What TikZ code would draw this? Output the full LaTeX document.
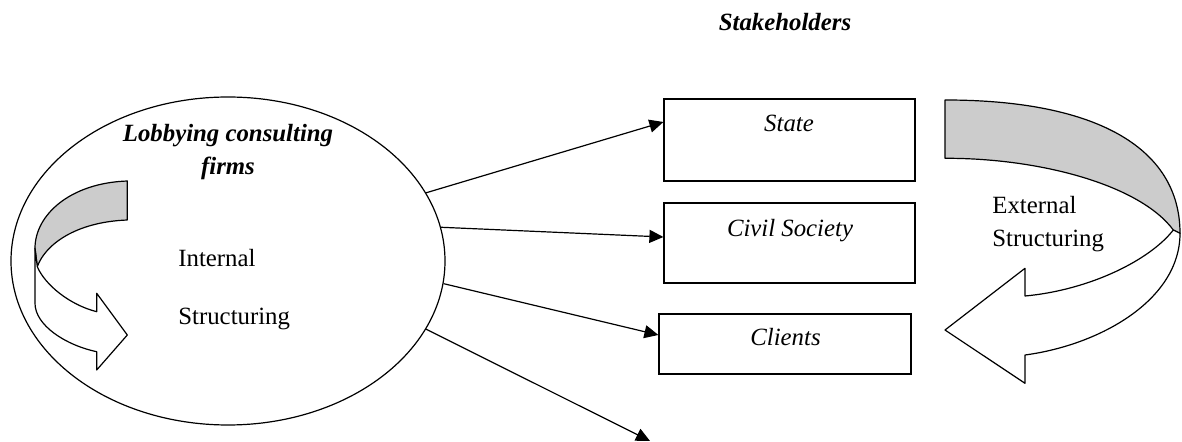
\documentclass[tikz,border=0pt]{standalone}
\usepackage{fontspec}
\setmainfont{Liberation Serif}
\usetikzlibrary{arrows.meta,shapes.geometric}
\tikzset{
  txt/.style={font=\fontsize{12.4}{16.5}\selectfont, inner sep=0pt, anchor=base},
  bi/.style={txt, font=\fontsize{12.4}{16.5}\selectfont\bfseries\itshape},
  it/.style={txt, font=\fontsize{12.4}{16.5}\selectfont\itshape},
  box/.style={draw, line width=0.6pt, inner sep=0pt},
  conn/.style={line width=0.6pt, -{Triangle[length=7pt,width=6.5pt]}},
  curvearrow/.style={line width=0.6pt, line join=round},
}
\begin{document}
\begin{tikzpicture}[x=0.5pt,y=-0.5pt]
\useasboundingbox (0,0) rectangle (1182,442);
% firm ellipse
\node[draw, ellipse, line width=0.6pt, minimum width=217pt, minimum height=164pt, inner sep=0pt] (ell) at (228,261) {};
% stakeholder boxes
\node[box, minimum width=125.5pt, minimum height=41pt] (state) at (789.5,140) {};
\node[box, minimum width=125.5pt, minimum height=40pt] (civil) at (789.5,243) {};
\node[box, minimum width=126pt, minimum height=30pt] (clients) at (785,344) {};
% texts
\node[bi] (stake) at (785,31) {Stakeholders};
\node[bi, align=center] (lob) at (228,175) {Lobbying consulting\\firms};
\node[txt, anchor=base west] (int1) at (178,267) {Internal};
\node[txt, anchor=base west] (int2) at (178,325) {Structuring};
\node[it] (statet) at (789,132) {State};
\node[it] (civilt) at (790,237) {Civil Society};
\node[it] (clientst) at (785.5,346) {Clients};
\node[txt, anchor=base west] (ext1) at (992,214) {External};
\node[txt, anchor=base west] (ext2) at (992,247) {Structuring};
% connector end points
\coordinate (e1) at (state.west |- 0,122);
\coordinate (e2) at (civil.west |- 0,237);
\coordinate (e3) at (clients.west |- 0,335);
\coordinate (e4) at (650,441);
\draw[conn] (ell.19) -- (e1);
\draw[conn] (ell.9.7) -- (e2);
\draw[conn] (ell.-6.9) -- (e3);
\draw[conn] (ell.-19.6) -- (e4);
% internal curved arrow
\filldraw[curvearrow, fill=gray!40] (127.3,181) .. controls (70,183) and (35,215) .. (35,248.3)
  -- (37.3,266.7) .. controls (45,245) and (75,222) .. (127.3,220) -- cycle;
\filldraw[curvearrow, fill=white] (35,248.3) -- (35,303.3) .. controls (35,325) and (65,345) .. (96.7,351.7)
  -- (96.7,370) -- (127.3,335) -- (96.7,293.3) -- (96.7,311.7)
  .. controls (70,305) and (45,285) .. (37.3,266.7) -- cycle;
% external curved arrow
\filldraw[curvearrow, fill=gray!40] (945,100) .. controls (1100,100) and (1180,150) .. (1180,233.3)
  -- (1173.3,230) .. controls (1140,185) and (1040,158) .. (945,158.3) -- cycle;
\filldraw[curvearrow, fill=white] (1180,233.3) .. controls (1180,300) and (1100,345) .. (1025,355)
  -- (1025,383.3) -- (945,330) -- (1025,268.3) -- (1025,296)
  .. controls (1090,290) and (1150,260) .. (1173.3,230) -- cycle;
\end{tikzpicture}
\end{document}
